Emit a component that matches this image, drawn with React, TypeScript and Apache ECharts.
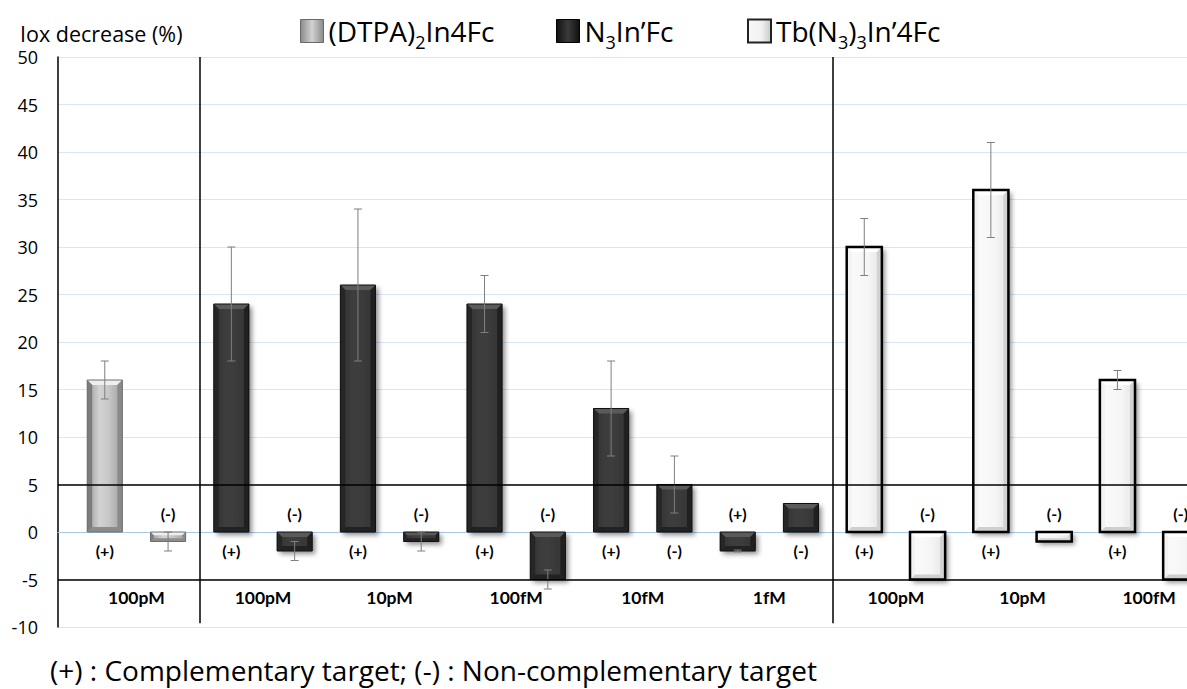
import React, { useEffect, useRef } from 'react';
import * as echarts from 'echarts';

const compoundNames = ['(DTPA)2In4Fc', 'N3In’Fc', 'Tb(N3)3In’4Fc'];
const legendLabels: Record<string, string> = {
  '(DTPA)2In4Fc': '(DTPA){sub|2}In4Fc',
  'N3In’Fc': 'N{sub|3}In’Fc',
  'Tb(N3)3In’4Fc': 'Tb(N{sub|3}){sub|3}In’4Fc',
};
const dtpaValues = [16, -1];
const dtpaErrors = [2, 1];
const n3Values = [24, -2, 26, -1, 24, -5, 13, 5, -2, 3];
const n3Errors = [6, 1, 8, 1, 3, 1, 5, 3, 0.1, 0];
const tbValues = [30, -5, 36, -1, 16, -5];
const tbErrors = [3, 0, 5, 0, 1, 0];
const targetLabels = ['(+)', '(-)'];
const concentrationLabels = ['100pM', '100pM', '10pM', '100fM', '10fM', '1fM', '100pM', '10pM', '100fM'];
const separatorPositions = [1.5, 11.5];
const thresholdLines = [5, -5];
const yAxisTitle = 'Iox decrease (%)';
const footnote = '(+) : Complementary target; (-) : Non-complementary target';

const FONT = 'Lato';
const BIG_FONT = 'Open Sans';

type Palette = {
  body: any; top: string; bottom: string; left: string; right: string;
  border: string; borderWidth: number; shadow: boolean;
};

const lg = (stops: [number, string][]) => ({
  type: 'linear', x: 0, y: 0, x2: 1, y2: 0,
  colorStops: stops.map(([offset, color]) => ({ offset, color })),
});

const palettes: Palette[] = [
  {
    body: lg([[0, '#9a9a9a'], [0.35, '#d2d2d2'], [0.6, '#c8c8c8'], [1, '#a0a0a0']]),
    top: '#eeeeee', bottom: '#8c8c8c', left: '#7c7c7c', right: '#8a8a8a',
    border: '#6e6e6e', borderWidth: 1, shadow: false,
  },
  {
    body: lg([[0, '#333333'], [0.4, '#3e3e3e'], [1, '#353535']]),
    top: '#5a5a5a', bottom: '#222222', left: '#262626', right: '#202020',
    border: '#111111', borderWidth: 1, shadow: true,
  },
  {
    body: lg([[0, '#fbfbfb'], [0.6, '#f6f6f6'], [1, '#e4e4e4']]),
    top: '#ffffff', bottom: '#cfcfcf', left: '#f2f2f2', right: '#d2d2d2',
    border: '#000000', borderWidth: 2.5, shadow: true,
  },
];

const legendItemStyles = [
  { color: lg([[0, '#8a8a8a'], [0.5, '#d2d2d2'], [1, '#8a8a8a']]), borderColor: '#6a6a6a', borderWidth: 1 },
  { color: lg([[0, '#111111'], [0.5, '#3a3a3a'], [1, '#111111']]), borderColor: '#000000', borderWidth: 1 },
  { color: lg([[0, '#f8f8f8'], [0.6, '#f0f0f0'], [1, '#c8c8c8']]), borderColor: '#222222', borderWidth: 2 },
];

function buildSeriesData() {
  const groups = [
    [dtpaValues, dtpaErrors],
    [n3Values, n3Errors],
    [tbValues, tbErrors],
  ];
  let offset = 0;
  return groups.map(([vals, errs]) => {
    const d = vals.map((v, i) => [offset + i, v, errs[i], i % 2]);
    offset += vals.length;
    return d;
  });
}

function makeBarRenderer(pal: Palette) {
  return (params: any, api: any) => {
    const x = api.value(0);
    const v = api.value(1);
    const e = api.value(2);
    const t = api.value(3);
    const bw = api.size([1, 0])[0] * 0.555;
    const p0 = api.coord([x, 0]);
    const p1 = api.coord([x, v]);
    const l = p0[0] - bw / 2;
    const r = p0[0] + bw / 2;
    const top = Math.min(p0[1], p1[1]);
    const bot = Math.max(p0[1], p1[1]);
    const h = bot - top;
    const b = Math.min(5, h / 3);
    const children: any[] = [];
    children.push({
      type: 'rect',
      shape: { x: l, y: top, width: bw, height: h },
      style: pal.shadow
        ? { fill: pal.body, shadowBlur: 5, shadowColor: 'rgba(0,0,0,0.45)', shadowOffsetX: 3, shadowOffsetY: 3 }
        : { fill: pal.body },
    });
    children.push({ type: 'polygon', shape: { points: [[l, top], [r, top], [r - b, top + b], [l + b, top + b]] }, style: { fill: pal.top } });
    children.push({ type: 'polygon', shape: { points: [[l, bot], [r, bot], [r - b, bot - b], [l + b, bot - b]] }, style: { fill: pal.bottom } });
    children.push({ type: 'polygon', shape: { points: [[l, top], [l + b, top + b], [l + b, bot - b], [l, bot]] }, style: { fill: pal.left } });
    children.push({ type: 'polygon', shape: { points: [[r, top], [r - b, top + b], [r - b, bot - b], [r, bot]] }, style: { fill: pal.right } });
    children.push({
      type: 'rect',
      shape: { x: l, y: top, width: bw, height: h },
      style: { fill: 'none', stroke: pal.border, lineWidth: pal.borderWidth },
    });
    if (e > 0) {
      const pu = api.coord([x, v + e]);
      const pd = api.coord([x, v - e]);
      const cap = 4;
      const es = { stroke: '#7f7f7f', lineWidth: 1 };
      children.push({ type: 'line', shape: { x1: p0[0], y1: pu[1], x2: p0[0], y2: pd[1] }, style: es });
      children.push({ type: 'line', shape: { x1: p0[0] - cap, y1: pu[1], x2: p0[0] + cap, y2: pu[1] }, style: es });
      children.push({ type: 'line', shape: { x1: p0[0] - cap, y1: pd[1], x2: p0[0] + cap, y2: pd[1] }, style: es });
    }
    const ly = api.coord([x, v >= 0 ? -1.9 : 1.9])[1];
    children.push({
      type: 'text',
      style: {
        x: p0[0], y: ly, text: targetLabels[t], fill: '#000',
        fontSize: 16, fontWeight: 'bold', fontFamily: FONT,
        align: 'center', verticalAlign: 'middle',
      },
    });
    return { type: 'group', children };
  };
}

export default function App() {
  const ref = useRef<HTMLDivElement>(null);
  useEffect(() => {
    if (!ref.current) return;
    const chart = echarts.init(ref.current, undefined, { renderer: 'svg' });
    const seriesData = buildSeriesData();
    const barSeries = compoundNames.map((name, i) => ({
      name,
      type: 'custom',
      clip: true,
      z: 3,
      itemStyle: { color: i === 0 ? '#b0b0b0' : i === 1 ? '#2a2a2a' : '#f2f2f2' },
      data: seriesData[i],
      encode: { x: 0, y: 1 },
      renderItem: makeBarRenderer(palettes[i]),
    }));
    const labelSeries = {
      name: 'concentration',
      type: 'custom',
      z: 2,
      silent: true,
      data: concentrationLabels.map((_, i) => [2 * i + 0.5, -6.9]),
      encode: { x: 0, y: 1 },
      renderItem: (params: any, api: any) => {
        const p = api.coord([api.value(0), api.value(1)]);
        return {
          type: 'text',
          style: {
            x: p[0], y: p[1], text: concentrationLabels[params.dataIndex], fill: '#000',
            fontSize: 17.5, fontWeight: 'bold', fontFamily: FONT,
            align: 'center', verticalAlign: 'middle',
          },
        };
      },
      markLine: {
        silent: true,
        symbol: 'none',
        label: { show: false },
        lineStyle: { color: '#000', width: 1.5, type: 'solid' },
        data: [
          ...thresholdLines.map((y) => ({ yAxis: y })),
          ...separatorPositions.map((x) => [{ coord: [x, 50] }, { coord: [x, -9.6] }]),
        ],
      },
    };
    chart.setOption({
      animation: false,
      title: [
        {
          text: yAxisTitle, left: 20, top: 22, padding: 0,
          textStyle: { fontSize: 21.5, fontWeight: 'normal', fontFamily: BIG_FONT, color: '#000' },
        },
        {
          text: footnote, left: 50, top: 657, padding: 0,
          textStyle: { fontSize: 28, lineHeight: 26, fontWeight: 'normal', fontFamily: BIG_FONT, color: '#000' },
        },
      ],
      legend: compoundNames.map((name, i) => ({
        data: [{ name, icon: 'rect', itemStyle: legendItemStyles[i] }],
        left: [300, 556, 747][i],
        top: 11,
        padding: 0,
        itemWidth: 23,
        itemHeight: 23,
        itemGap: 0,
        selectedMode: false,
        formatter: (n: string) => legendLabels[n],
        textStyle: {
          fontSize: 28, fontFamily: BIG_FONT, color: '#000', lineHeight: 40,
          rich: { sub: { fontSize: 18, fontFamily: BIG_FONT, color: '#000', lineHeight: 8, verticalAlign: 'bottom' } },
        },
      })),
      grid: { left: 58, right: 0, top: 57, bottom: 62, containLabel: false },
      xAxis: {
        type: 'value', min: -0.739, max: 17.099,
        axisLabel: { show: false }, axisTick: { show: false }, splitLine: { show: false },
        axisLine: { show: true, onZero: true, lineStyle: { color: '#a8c8ea', width: 1 } },
      },
      yAxis: {
        type: 'value', min: -10, max: 50, interval: 5,
        axisLine: { show: true, onZero: false, lineStyle: { color: '#000', width: 1.5 } },
        axisTick: { show: false },
        axisLabel: { color: '#000', fontSize: 18, fontFamily: BIG_FONT, margin: 20 },
        splitLine: { show: true, lineStyle: { color: '#d9e6f4', width: 1 } },
      },
      series: [labelSeries, ...barSeries],
    });
    return () => chart.dispose();
  }, []);
  return <div ref={ref} style={{ position: 'absolute', left: 0, top: 0, width: 1187, height: 689 }} />;
}
